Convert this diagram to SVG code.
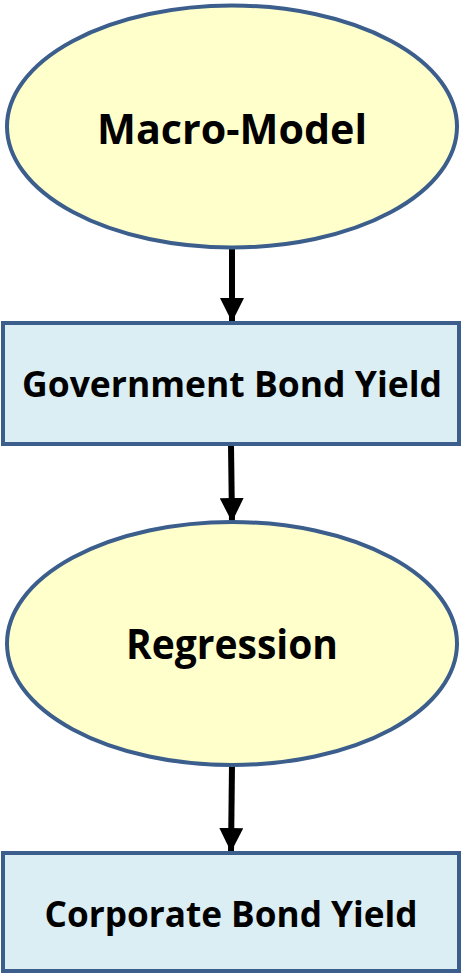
<svg xmlns="http://www.w3.org/2000/svg" width="462" height="973" viewBox="0 0 462 973">
<style>
.ell{fill:#FFFFCC;stroke:#3B5E8C;stroke-width:4}
.box{fill:#DAEEF3;stroke:#3B5E8C;stroke-width:4}
.lbl{font-family:"Open Sans","Liberation Sans",sans-serif;font-weight:700;fill:#000;text-anchor:middle}
.conn{stroke:#000;stroke-width:6;fill:none}
</style>
<defs>
<marker id="ah" markerUnits="userSpaceOnUse" markerWidth="24" markerHeight="24" refX="24" refY="12" orient="auto" viewBox="0 0 24 24">
<path d="M0,0 L24,12 L0,24 Z" fill="#000"/>
</marker>
</defs>
<rect width="462" height="973" fill="#fff"/>
<g id="connectors">
<line class="conn" x1="232" y1="248" x2="232" y2="322" marker-end="url(#ah)"/>
<line class="conn" x1="231" y1="445" x2="232" y2="522" marker-end="url(#ah)"/>
<line class="conn" x1="232" y1="765" x2="231" y2="852" marker-end="url(#ah)"/>
</g>
<g id="macro-model">
<ellipse class="ell" cx="232" cy="126.5" rx="225" ry="121"/>
<text class="lbl" x="232" y="144" font-size="42" textLength="270" lengthAdjust="spacingAndGlyphs">Macro-Model</text>
</g>
<g id="government-bond-yield">
<rect class="box" x="3" y="323" width="456" height="121"/>
<text class="lbl" x="232" y="397" font-size="36" textLength="420" lengthAdjust="spacingAndGlyphs">Government Bond Yield</text>
</g>
<g id="regression">
<ellipse class="ell" cx="232" cy="643.5" rx="225" ry="121.5"/>
<text class="lbl" x="232" y="659" font-size="42" textLength="212" lengthAdjust="spacingAndGlyphs">Regression</text>
</g>
<g id="corporate-bond-yield">
<rect class="box" x="3" y="853" width="456" height="118"/>
<text class="lbl" x="231" y="927" font-size="36" textLength="373" lengthAdjust="spacingAndGlyphs">Corporate Bond Yield</text>
</g>
</svg>
